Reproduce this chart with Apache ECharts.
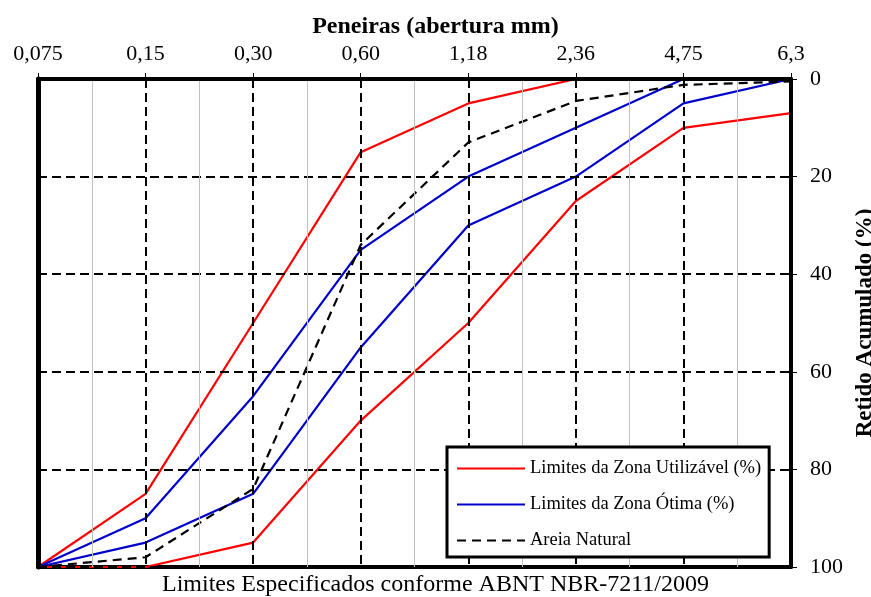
<!DOCTYPE html>
<html><head><meta charset="utf-8">
<script src="https://cdn.jsdelivr.net/npm/echarts@6/dist/echarts.min.js"></script>
<style>html,body{margin:0;padding:0;background:#fff}#c{width:871px;height:597px}</style>
</head><body><div id="c"></div>
<script>
const sieves = ['0,075','0,15','0,30','0,60','1,18','2,36','4,75','6,3'];
const utilUpper = [100, 85, 50, 15, 5, 0, 0, 0];
const utilLower = [100, 100, 95, 70, 50, 25, 10, 7];
const otimaUpper = [100, 90, 65, 35, 20, 10, 0, 0];
const otimaLower = [100, 95, 85, 55, 30, 20, 5, 0];
const areiaNatural = [100, 98, 84, 34, 13, 4.5, 1.2, 0.5];
const yTicks = [0, 20, 40, 60, 80, 100];

const F = 'Liberation Serif, Times New Roman, serif';
const pairs = arr => arr.map((v, i) => [i, v]);
const nameUtil = 'Limites da Zona Utilizável (%)';
const nameOtima = 'Limites da Zona Ótima (%)';
const nameAreia = 'Areia Natural';

const chart = echarts.init(document.getElementById('c'), null, {renderer: 'canvas'});
chart.setOption({
  animation: false,
  backgroundColor: '#fff',
  title: [
    {text: 'Peneiras (abertura mm)', left: 'center', top: 10,
     textStyle: {fontFamily: F, fontSize: 24, fontWeight: 'bold', color: '#000'}},
    {text: 'Limites Especificados conforme ABNT NBR-7211/2009', left: 'center', top: 568,
     textStyle: {fontFamily: F, fontSize: 24, fontWeight: 'normal', color: '#000'}}
  ],
  grid: {left: 38, right: 80, top: 79, bottom: 30, containLabel: false, outerBoundsMode: 'none'},
  legend: {
    orient: 'vertical', left: 447, top: 447,
    data: [nameUtil, nameOtima, nameAreia],
    itemWidth: 68, itemHeight: 14, itemGap: 17,
    itemStyle: {opacity: 0},
    padding: [12, 8, 7, 9],
    borderColor: '#000', borderWidth: 3, backgroundColor: '#fff',
    textStyle: {fontFamily: F, fontSize: 18.5, color: '#000'},
    z: 20
  },
  xAxis: [
    {type: 'value', position: 'top', min: 0, max: 7, interval: 1, z: 10,
     axisLine: {show: true, onZero: false, lineStyle: {color: '#000', width: 4}},
     axisTick: {show: true, inside: false, length: 6, lineStyle: {color: '#000', width: 1}},
     axisLabel: {formatter: v => sieves[v] ?? '', fontFamily: F, fontSize: 22, color: '#000', margin: 14},
     splitLine: {show: true, lineStyle: {color: '#000', width: 2, type: [9, 5]}},
     minorTick: {show: false, splitNumber: 2},
     minorSplitLine: {show: true, lineStyle: {color: '#c0c0c0', width: 1}}},
    {type: 'value', position: 'bottom', min: 0, max: 7, interval: 1, z: 1,
     axisLine: {show: true, onZero: false, lineStyle: {color: '#000', width: 4}},
     axisTick: {show: false}, axisLabel: {show: false}, splitLine: {show: false}}
  ],
  yAxis: [
    {type: 'value', position: 'right', inverse: true, min: 0, max: 100, interval: 20, z: 10,
     name: 'Retido Acumulado (%)', nameLocation: 'middle', nameRotate: 90, nameGap: 52,
     nameTextStyle: {fontFamily: F, fontSize: 23, fontWeight: 'bold', color: '#000'},
     axisLine: {show: true, onZero: false, lineStyle: {color: '#000', width: 4}},
     axisTick: {show: true, inside: false, length: 6, lineStyle: {color: '#000', width: 1}},
     axisLabel: {fontFamily: F, fontSize: 22, color: '#000', margin: 19,
       formatter: v => yTicks.includes(v) ? String(v) : ''},
     splitLine: {show: true, lineStyle: {color: '#000', width: 2, type: [9, 5]}}},
    {type: 'value', position: 'left', inverse: true, min: 0, max: 100, interval: 20, z: 10,
     axisLine: {show: true, onZero: false, lineStyle: {color: '#000', width: 5}},
     axisTick: {show: false}, axisLabel: {show: false}, splitLine: {show: false}}
  ],
  series: [
    {name: nameUtil, type: 'line', data: pairs(utilUpper), symbol: 'none',
     lineStyle: {color: '#ff0000', width: 2.2}, itemStyle: {color: '#ff0000'}, z: 3},
    {name: nameUtil, type: 'line', data: pairs(utilLower), symbol: 'none',
     lineStyle: {color: '#ff0000', width: 2.2}, itemStyle: {color: '#ff0000'}, z: 3},
    {name: nameOtima, type: 'line', data: pairs(otimaUpper), symbol: 'none',
     lineStyle: {color: '#0000cc', width: 2.2}, itemStyle: {color: '#0000cc'}, z: 3},
    {name: nameOtima, type: 'line', data: pairs(otimaLower), symbol: 'none',
     lineStyle: {color: '#0000cc', width: 2.2}, itemStyle: {color: '#0000cc'}, z: 3},
    {name: nameAreia, type: 'line', data: pairs(areiaNatural), symbol: 'none',
     lineStyle: {color: '#000', width: 2.2, type: [9, 6]}, itemStyle: {color: '#000'}, z: 4}
  ]
});
</script></body></html>
